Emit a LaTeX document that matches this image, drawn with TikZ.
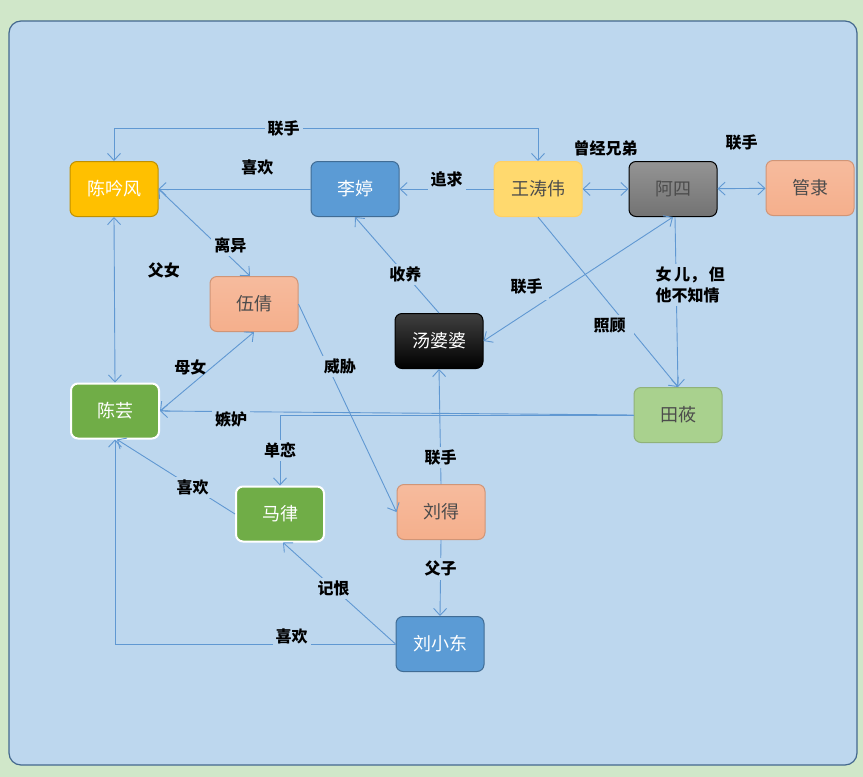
\documentclass[tikz,border=0pt]{standalone}
\usepackage{fontspec}
\newfontfamily\cjk{Noto Sans CJK SC}
\usetikzlibrary{arrows.meta}

\definecolor{outerbg}{RGB}{208,231,201}
\definecolor{panel}{RGB}{189,215,238}
\definecolor{panelline}{RGB}{68,104,142}
\definecolor{linkc}{RGB}{96,152,210}
\definecolor{yellowc}{RGB}{255,192,0}
\definecolor{bluec}{RGB}{91,155,213}
\definecolor{lyellowc}{RGB}{255,217,110}
\definecolor{salmonc}{RGB}{245,175,140}
\definecolor{greenc}{RGB}{112,173,71}
\definecolor{lgreenc}{RGB}{169,209,142}

\begin{document}
\begin{tikzpicture}[
    x=1pt, y=-1pt,
    block/.style={draw, rectangle, rounded corners=7pt, minimum height=55pt, minimum width=88pt, align=center, line width=1pt, font=\cjk\fontsize{18}{21}\selectfont},
    link/.style={draw=linkc, line width=0.9pt, -{Straight Barb[length=7pt,width=13pt]}},
    both/.style={{Straight Barb[length=7pt,width=13pt]}-{Straight Barb[length=7pt,width=13pt]}},
    lbl/.style={fill=panel, inner sep=3pt, font=\cjk\bfseries\fontsize{16}{21}\selectfont, text=black}
  ]
    \useasboundingbox (0,0) rectangle (863,777);
    \fill[outerbg] (0,0) rectangle (863,777);
    \draw[panelline, fill=panel, line width=1.2pt, rounded corners=12pt] (9,21) rectangle (857,765);

    % Blocks
    \node[block, fill=yellowc, draw=yellowc!75!black, text=white] at (114,189) (cyf) {陈吟风};
    \node[block, fill=bluec, draw=bluec!70!black, text=white] at (355,189) (lt) {李婷};
    \node[block, fill=lyellowc, draw=lyellowc!90!orange, text=black!70] at (538,189) (wtw) {王涛伟};
    \node[block, top color=black!42, bottom color=black!55, draw=black, text=black!70] at (673,189) (as) {阿四};
    \node[block, top color=salmonc!85!white, bottom color=salmonc, draw=salmonc!85!black, text=black!70] at (810,188) (gl) {管隶};
    \node[block, top color=salmonc!85!white, bottom color=salmonc, draw=salmonc!85!black, text=black!70] at (254,304) (wq) {伍倩};
    \node[block, top color=black!75, bottom color=black, draw=black, text=white] at (439,341) (tpp) {汤婆婆};
    \node[block, fill=greenc, draw=white, line width=2pt, text=white] at (115,411) (cy) {陈芸};
    \node[block, fill=lgreenc, draw=lgreenc!85!black, text=black!70] at (678,415) (ty) {田莜};
    \node[block, fill=greenc, draw=white, line width=2pt, text=white] at (280,514) (ml) {马律};
    \node[block, top color=salmonc!85!white, bottom color=salmonc, draw=salmonc!85!black, text=black!70] at (441,512) (ld) {刘得};
    \node[block, fill=bluec, draw=bluec!70!black, text=white] at (440,644) (lxd) {刘小东};

    % Connections
    \draw[link, both] (cyf.north) -- ++(0,-33) -| node[lbl, pos=0.2] {联手} (wtw.north);
    \draw[link] (lt) -- node[lbl, fill=none, pos=0.35, yshift=22pt] {喜欢} (cyf);
    \draw[link] (wtw) -- node[lbl, inner ysep=6pt, yshift=10pt] {追求} (lt);
    \draw[link, both] (wtw) -- node[lbl, fill=none, yshift=41pt] {曾经兄弟} (as);
    \draw[link, both] (as) -- node[lbl, fill=none, yshift=46pt] {联手} (gl);
    \draw[link, both] (cyf.east) -- node[lbl, pos=0.72, xshift=6pt, yshift=6pt] {离异} ([xshift=-4pt]wq.north);
    \draw[link, both] (cyf.south) -- node[lbl, fill=none, right=30pt, pos=0.32] {父女} (cy.north);
    \draw[link, both] (wq.south) -- node[lbl, fill=none, left=2pt, pos=0.45] {母女} (cy.east);
    \draw[link] (wq.east) -- node[lbl, pos=0.3, xshift=12pt] {威胁} (ld.west);
    \draw[link] (tpp.north) -- node[lbl, pos=0.4] {收养} (lt.south);
    \draw[link, both] (as.south) -- node[lbl, pos=0.72, xshift=-10pt, yshift=20pt, inner sep=6pt] {联手} (tpp.east);
    \draw[link] (wtw.south) -- node[lbl, pos=0.64, xshift=-18pt, inner xsep=8pt] {照顾} (ty.north);
    \draw[link] ([xshift=2pt]as.south) -- node[lbl, pos=0.4, xshift=14pt, align=left] {女\,儿，\,但\\他不知情} (ty.north);
    \draw[link] (ty.west) -- node[lbl, pos=0.85, yshift=-8pt] {嫉妒} (cy.east);
    \draw[link] (ty.west) -| node[lbl, pos=0.75] {单恋} (ml.north);
    \draw[link] (ml.west) -- node[lbl, pos=0.36] {喜欢} ([xshift=2pt]cy.south);
    \draw[link] (ld.north) -- node[lbl, pos=0.23] {联手} (tpp.south);
    \draw[link] (ld.south) -- node[lbl, pos=0.38] {父子} (lxd.north);
    \draw[link] (lxd.west) -- node[lbl, pos=0.55] {记恨} ([xshift=3pt]ml.south);
    \draw[link] (lxd.west) -| node[lbl, pos=0.185, yshift=8pt, inner ysep=6pt] {喜欢} (cy.south);

  \end{tikzpicture}
\end{document}
